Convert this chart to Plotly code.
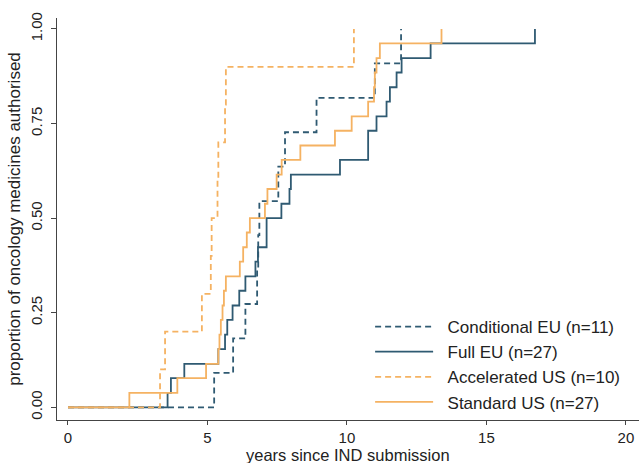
import plotly.graph_objects as go

# ---- data (years since IND submission, proportion authorised) ----
cond_eu_t = [0, 5.24, 5.92, 6.36, 6.78, 6.82, 6.86, 7.54, 7.78, 8.91, 11.00, 11.94]
cond_eu_p = [0, 0.091, 0.182, 0.273, 0.364, 0.455, 0.545, 0.636, 0.727, 0.818, 0.909, 1.0]

full_eu_t = [0, 3.57, 3.69, 4.17, 5.39, 5.63, 5.71, 5.90, 6.14, 6.36, 6.72, 6.81,
             7.12, 7.65, 7.94, 7.99, 9.75, 10.76, 11.06, 11.42, 11.54, 11.78,
             11.96, 13.00, 16.74]
full_eu_p = [0, 0.038, 0.077, 0.115, 0.154, 0.192, 0.231, 0.269, 0.308, 0.346, 0.385, 0.423,
             0.500, 0.538, 0.577, 0.615, 0.654, 0.731, 0.769, 0.808, 0.846, 0.885,
             0.923, 0.962, 1.0]

acc_us_t = [0, 3.30, 3.48, 4.80, 5.12, 5.15, 5.36, 5.39, 5.63, 5.66, 10.25]
acc_us_p = [0, 0.1, 0.2, 0.3, 0.4, 0.5, 0.6, 0.7, 0.8, 0.9, 1.0]

std_us_t = [0, 2.20, 3.92, 4.95, 5.39, 5.43, 5.48, 5.54, 5.59, 5.66, 6.16, 6.28, 6.41,
            6.52, 7.06, 7.15, 7.48, 7.66, 8.33, 9.57, 10.17, 10.76, 10.97, 11.00,
            11.06, 11.18, 13.39]
std_us_p = [0, 0.038, 0.077, 0.115, 0.154, 0.192, 0.231, 0.269, 0.308, 0.346, 0.385, 0.423, 0.462,
            0.500, 0.538, 0.577, 0.615, 0.654, 0.692, 0.731, 0.769, 0.808, 0.846, 0.885,
            0.923, 0.962, 1.0]

series_names = ["Conditional EU (n=11)", "Full EU (n=27)",
                "Accelerated US (n=10)", "Standard US (n=27)"]

x_ticks = [0, 5, 10, 15, 20]
y_ticks = [0, 0.25, 0.5, 0.75, 1.0]
y_tick_labels = ["0.00", "0.25", "0.50", "0.75", "1.00"]
x_title = "years since IND submission"
y_title = "proportion of oncology medicines authorised"

BLUE = "#2f5a72"
ORANGE = "#f5b262"
FONT = "Liberation Sans, Arial, sans-serif"
TXT = "#222"
GAP = "\u00a0\u00a0"

series = [
    (series_names[0], cond_eu_t, cond_eu_p, BLUE, "6px,4px"),
    (series_names[1], full_eu_t, full_eu_p, BLUE, "solid"),
    (series_names[2], acc_us_t, acc_us_p, ORANGE, "6px,4px"),
    (series_names[3], std_us_t, std_us_p, ORANGE, "solid"),
]

fig = go.Figure()
for name, t, p, col, dash in series:
    fig.add_trace(go.Scatter(
        x=t, y=p, mode="lines", name=GAP + name,
        line=dict(color=col, width=1.8, dash=dash, shape="hv"),
    ))

fig.update_layout(
    width=639, height=463,
    margin=dict(l=57, r=0, t=18, b=43, pad=0),
    paper_bgcolor="white", plot_bgcolor="white",
    font=dict(family=FONT, size=15, color=TXT),
    showlegend=True,
    legend=dict(
        x=0.538, y=0.276, xanchor="left", yanchor="top",
        bgcolor="rgba(0,0,0,0)", font=dict(size=17, color=TXT),
        itemwidth=58, tracegroupgap=0,
    ),
    xaxis=dict(
        range=[-0.394, 20.47], tickvals=x_ticks, ticks="outside", ticklen=4,
        tickcolor="#444", showline=True, linecolor="#444", linewidth=1,
        showgrid=False, zeroline=False, tickfont=dict(size=15), automargin=False,
    ),
    yaxis=dict(
        range=[-0.0336, 1.029], tickvals=y_ticks, ticktext=y_tick_labels,
        tickangle=-90, ticks="outside", ticklen=5, ticklabelstandoff=3,
        tickcolor="#444", showline=True, linecolor="#444", linewidth=1,
        showgrid=False, zeroline=False, tickfont=dict(size=15), automargin=False,
        title=dict(text=y_title, font=dict(size=17), standoff=3),
    ),
    annotations=[dict(
        text=x_title, xref="paper", yref="paper", x=0.5, y=-0.0871,
        xanchor="center", yanchor="middle", showarrow=False,
        font=dict(size=16.5, color=TXT),
    )],
)

fig.write_html("out.html",
               config={"displayModeBar": False},
               post_script="document.body.style.margin='0px';document.body.style.overflow='hidden';")
